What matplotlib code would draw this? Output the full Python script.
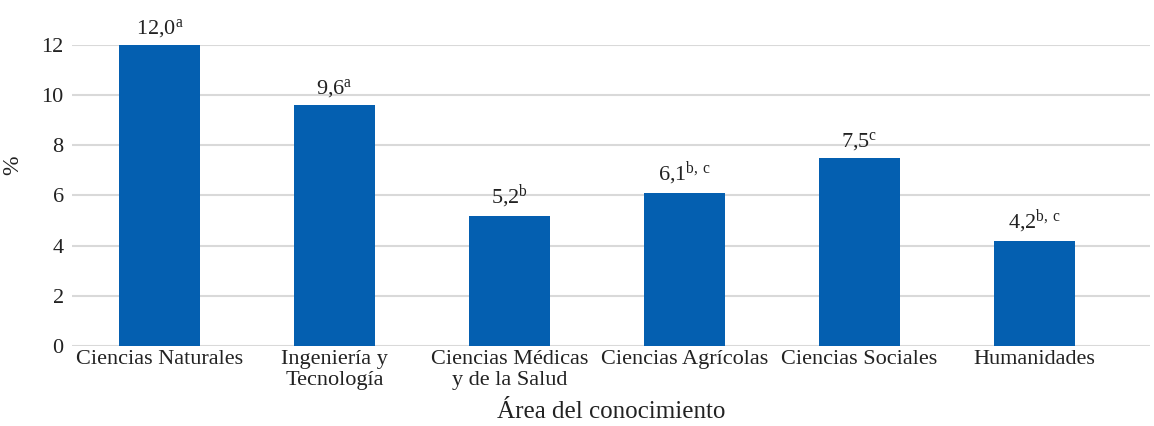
import numpy as np
import matplotlib
matplotlib.use('Agg')
from matplotlib import pyplot as plt

categories = ["Ciencias Naturales", "Ingeniería y\nTecnología", "Ciencias Médicas\ny de la Salud",
              "Ciencias Agrícolas", "Ciencias Sociales", "Humanidades"]
values = [12.0, 9.6, 5.2, 6.1, 7.5, 4.2]
letters = ["a", "a", "b", "b, c", "c", "b, c"]

plt.rcParams['font.family'] = ['Liberation Serif', 'DejaVu Serif']
plt.rcParams['mathtext.fontset'] = 'custom'
plt.rcParams['mathtext.rm'] = 'Liberation Serif'
plt.rcParams['mathtext.it'] = 'Liberation Serif'

fig = plt.figure(figsize=(11.54, 4.26), dpi=100)
ax = fig.add_axes([0.0624, 0.1878, 0.934, 0.7066])

x = np.arange(len(categories))
ax.bar(x, values, width=0.46, color='#045fb0', zorder=3)
for xi, v, l in zip(x, values, letters):
    lab = "{:.1f}".format(v).replace(".", ",") + r"$^{\mathrm{" + l.replace(" ", r"\,") + "}}$"
    ax.text(xi, v + 0.2, lab, ha='center', va='bottom', fontsize=16, color='#222222', clip_on=False)

ax.set_ylim(0, 12)
ax.set_xlim(-0.5, 5.66)
ax.set_yticks(np.arange(0, 13, 2))
ax.set_xticks(x)
ax.set_xticklabels(categories, fontsize=16, color='#222222', linespacing=1.1)
ax.tick_params(axis='y', labelsize=16, labelcolor='#222222', length=0, pad=6)
ax.tick_params(axis='x', length=0, pad=3)
ax.yaxis.grid(True, color='#d9d9d9', linewidth=1.5, zorder=0)
for s in ax.spines.values():
    s.set_visible(False)
ax.set_ylabel("%", fontsize=17, color='#222222', labelpad=8)
ax.yaxis.set_label_coords(-0.045, 0.6)
ax.set_xlabel("Área del conocimiento", fontsize=18, color='#222222', labelpad=8)

plt.savefig("out.png", dpi=100)
